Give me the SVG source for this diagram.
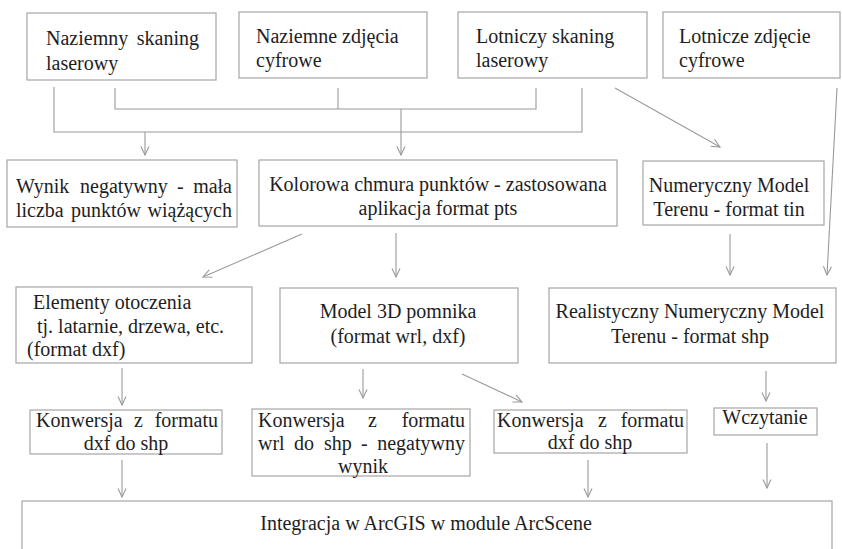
<svg xmlns="http://www.w3.org/2000/svg" width="842" height="549" viewBox="0 0 842 549">
<style>
.box{fill:#fff;stroke:#a6a6a6;stroke-width:1.2}
.t{font-family:"Liberation Serif","Times New Roman",serif;font-size:20px;fill:#1e1e1e}
.m{text-anchor:middle}
.e{text-anchor:end}
.c{fill:none;stroke:#9a9a9a;stroke-width:1.1}
</style>
<defs>
<marker id="ah" viewBox="0 0 10 10" refX="9" refY="5" markerWidth="10" markerHeight="10" markerUnits="userSpaceOnUse" orient="auto">
<path d="M0.5,1 L9,5 L0.5,9" fill="none" stroke="#9a9a9a" stroke-width="1.1"/>
</marker>
</defs>
<rect width="842" height="549" fill="#fff"/>

<g id="n1"><rect class="box" x="27" y="13" width="189" height="67"/>
<text class="t" x="46" y="45">Naziemny</text><text class="t e" x="199" y="45">skaning</text>
<text class="t" x="46" y="70">laserowy</text></g>

<g id="n2"><rect class="box" x="239" y="12" width="188" height="66"/>
<text class="t" x="256" y="43">Naziemne zdjęcia</text><text class="t" x="256" y="67">cyfrowe</text></g>

<g id="n3"><rect class="box" x="458" y="12" width="189" height="66"/>
<text class="t" x="476" y="43">Lotniczy skaning</text><text class="t" x="476" y="67">laserowy</text></g>

<g id="n4"><rect class="box" x="663" y="12" width="177" height="66"/>
<text class="t" x="679" y="43">Lotnicze zdjęcie</text><text class="t" x="679" y="67">cyfrowe</text></g>

<g id="n5"><rect class="box" x="7" y="160" width="230" height="67"/>
<text class="t" x="16" y="193">Wynik</text><text class="t" x="80" y="193">negatywny</text><text class="t" x="177" y="193">-</text><text class="t e" x="232" y="193">mała</text>
<text class="t" x="16" y="217">liczba</text><text class="t" x="71" y="217">punktów</text><text class="t e" x="232" y="217">wiążących</text></g>

<g id="n6"><rect class="box" x="259" y="160" width="358" height="66"/>
<text class="t m" x="438" y="191">Kolorowa chmura punktów - zastosowana</text>
<text class="t m" x="438" y="215">aplikacja format pts</text></g>

<g id="n7"><rect class="box" x="643" y="161" width="181" height="64"/>
<text class="t m" x="729" y="192">Numeryczny Model</text>
<text class="t m" x="729" y="216">Terenu - format tin</text></g>

<g id="n8"><rect class="box" x="16" y="287" width="236" height="76"/>
<text class="t" x="33" y="309">Elementy otoczenia</text>
<text class="t" x="37" y="333">tj. latarnie, drzewa, etc.</text>
<text class="t" x="27" y="356">(format dxf)</text></g>

<g id="n9"><rect class="box" x="280" y="288" width="238" height="75"/>
<text class="t m" x="398" y="318">Model 3D pomnika</text>
<text class="t m" x="398" y="343">(format wrl, dxf)</text></g>

<g id="n10"><rect class="box" x="549" y="288" width="287" height="75"/>
<text class="t m" x="690" y="318">Realistyczny Numeryczny Model</text>
<text class="t m" x="690" y="343">Terenu - format shp</text></g>

<g id="n11"><rect class="box" x="30" y="410" width="192" height="44"/>
<text class="t" x="36" y="427">Konwersja</text><text class="t" x="134" y="427">z</text><text class="t e" x="218" y="427">formatu</text>
<text class="t m" x="126" y="450">dxf do shp</text></g>

<g id="n12"><rect class="box" x="252" y="409" width="218" height="67"/>
<text class="t" x="258" y="427">Konwersja</text><text class="t" x="368" y="427">z</text><text class="t e" x="465" y="427">formatu</text>
<text class="t" x="258" y="450">wrl</text><text class="t" x="294" y="450">do</text><text class="t" x="324" y="450">shp</text><text class="t" x="361" y="450">-</text><text class="t e" x="465" y="450">negatywny</text>
<text class="t m" x="363" y="473">wynik</text></g>

<g id="n13"><rect class="box" x="494" y="410" width="193" height="43"/>
<text class="t" x="497" y="427">Konwersja</text><text class="t" x="598" y="427">z</text><text class="t e" x="684" y="427">formatu</text>
<text class="t m" x="590" y="449">dxf do shp</text></g>

<g id="n14"><rect class="box" x="714" y="408" width="103" height="27"/>
<text class="t m" x="765" y="424">Wczytanie</text></g>

<g id="n15"><rect class="box" x="22" y="501" width="810" height="60"/>
<text class="t m" x="426" y="530">Integracja w ArcGIS w module ArcScene</text></g>

<g id="connectors">
<polyline class="c" points="54,87 54,132 582,132 582,88"/>
<polyline class="c" points="115,88 115,109 536,109 536,88"/>
<line class="c" x1="338" y1="88" x2="338" y2="109"/>
<line class="c" x1="145" y1="132" x2="145" y2="155" marker-end="url(#ah)"/>
<line class="c" x1="401" y1="109" x2="401" y2="155" marker-end="url(#ah)"/>
<line class="c" x1="615" y1="88" x2="720" y2="147" marker-end="url(#ah)"/>
<line class="c" x1="837" y1="88" x2="827" y2="275" marker-end="url(#ah)"/>
<line class="c" x1="302" y1="234" x2="203" y2="277" marker-end="url(#ah)"/>
<line class="c" x1="396" y1="233" x2="396" y2="277" marker-end="url(#ah)"/>
<line class="c" x1="730" y1="234" x2="730" y2="275" marker-end="url(#ah)"/>
<line class="c" x1="122" y1="368" x2="122" y2="405" marker-end="url(#ah)"/>
<line class="c" x1="363" y1="369" x2="363" y2="398" marker-end="url(#ah)"/>
<line class="c" x1="462" y1="374" x2="522" y2="402" marker-end="url(#ah)"/>
<line class="c" x1="766" y1="371" x2="766" y2="401" marker-end="url(#ah)"/>
<line class="c" x1="122" y1="460" x2="122" y2="497" marker-end="url(#ah)"/>
<line class="c" x1="588" y1="460" x2="588" y2="497" marker-end="url(#ah)"/>
<line class="c" x1="767" y1="443" x2="767" y2="488" marker-end="url(#ah)"/>
</g>
</svg>
